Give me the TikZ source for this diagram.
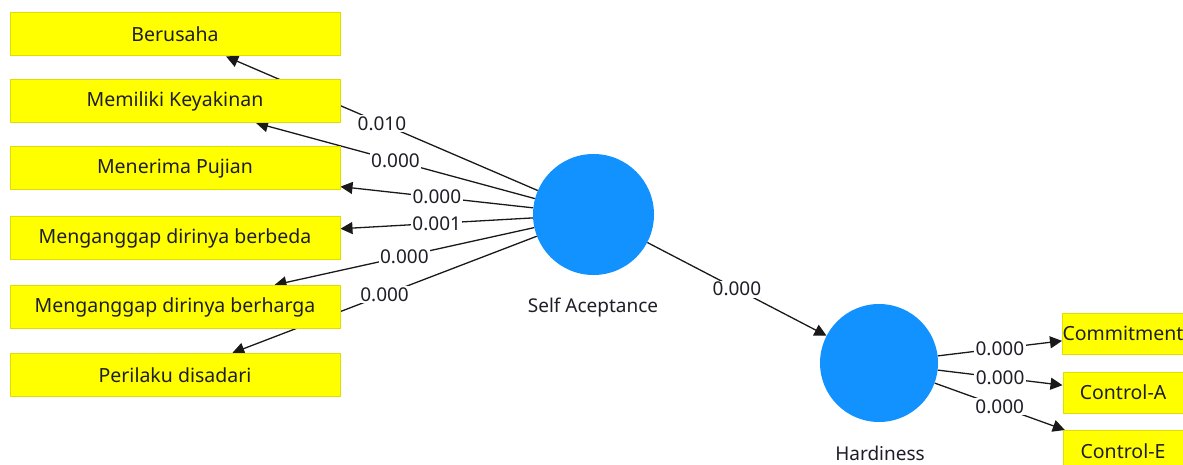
\documentclass[tikz,border=0pt]{standalone}
\usepackage{fontspec}
\setmainfont{Noto Sans}
\usetikzlibrary{arrows.meta,backgrounds}
\definecolor{boxy}{RGB}{255,255,0}
\definecolor{boxb}{RGB}{222,222,0}
\definecolor{lvblue}{RGB}{18,146,255}
\definecolor{txt}{RGB}{30,30,40}
\begin{document}
\begin{tikzpicture}[x=1pt,y=-1pt,
  ind/.style={draw=boxb, line width=1pt, fill=boxy, minimum width=330pt, minimum height=43pt, inner sep=0pt, font=\fontsize{19.5}{22}\selectfont, text=txt},
  rind/.style={ind, minimum width=120pt, minimum height=41pt},
  lv/.style={circle, fill=lvblue, inner sep=0pt},
  conn/.style={draw=black!90, line width=1.3pt, -{Triangle[length=12pt,width=12pt]}},
  coef/.style={fill=white, inner sep=1.5pt, font=\fontsize{19}{22}\selectfont, text=txt},
  lvlab/.style={font=\fontsize{19}{22}\selectfont, text=txt, inner sep=0pt}
]
\useasboundingbox (0,0) rectangle (1183,465);
\node[ind] (b1) at (175,34.5) {Berusaha};
\node[ind] (b2) at (175,101) {Memiliki Keyakinan};
\node[ind] (b3) at (175,168.5) {Menerima Pujian};
\node[ind] (b4) at (175,238) {Menganggap dirinya berbeda};
\node[ind] (b5) at (175,307) {Menganggap dirinya berharga};
\node[ind] (b6) at (175,375) {Perilaku disadari};
\node[rind] (r1) at (1123,333.5) {Commitment};
\node[rind] (r2) at (1123,392.5) {Control-A};
\node[rind] (r3) at (1123,451) {Control-E};
\node[lv, minimum size=121pt] (sa) at (593.5,214.5) {};
\node[lv, minimum size=118pt] (hd) at (879,363) {};
\node[lvlab] (salab) at (593,308) {Self Aceptance};
\node[lvlab] (hdlab) at (880,453) {Hardiness};
\begin{scope}[on background layer]
\draw[conn] (sa) -- node[coef]{0.010} (b1);
\draw[conn] (sa) -- node[coef]{0.000} (b2);
\draw[conn] (sa) -- node[coef]{0.000} (b3);
\draw[conn] (sa) -- node[coef]{0.001} (b4);
\draw[conn] (sa) -- node[coef]{0.000} (b5);
\draw[conn] (sa) -- node[coef]{0.000} (b6);
\draw[conn] (sa) -- node[coef]{0.000} (hd);
\draw[conn] (hd) -- node[coef]{0.000} (r1);
\draw[conn] (hd) -- node[coef]{0.000} (r2);
\draw[conn] (hd) -- node[coef]{0.000} (r3);
\end{scope}
\end{tikzpicture}
\end{document}
